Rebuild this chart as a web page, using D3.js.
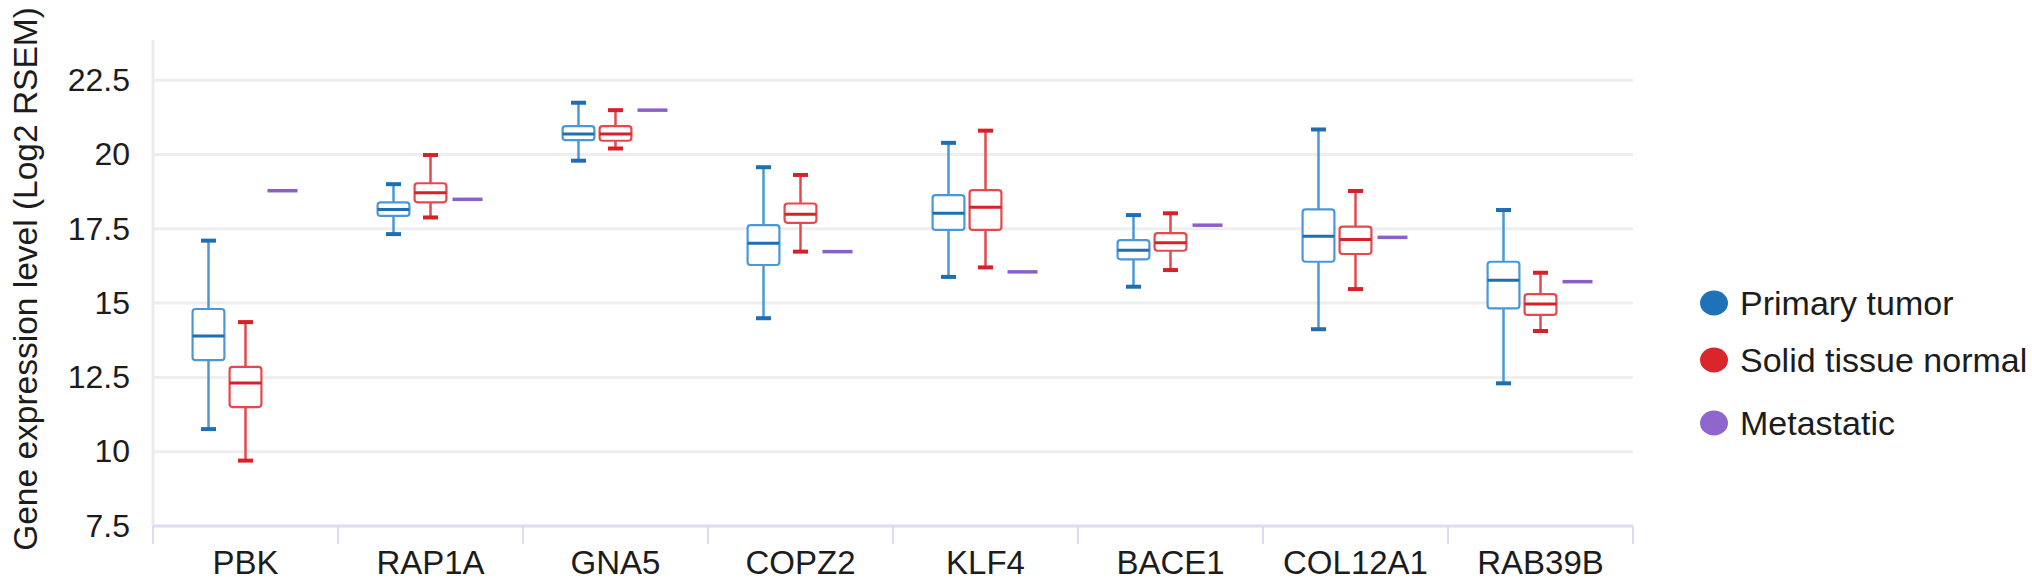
<!DOCTYPE html>
<html>
<head>
<meta charset="utf-8">
<script src="https://cdnjs.cloudflare.com/ajax/libs/d3/7.8.5/d3.min.js"></script>
<style>
  body { margin: 0; background: #fff; }
  svg { display: block; font-family: "Liberation Sans", Arial, Helvetica, sans-serif; }
  .tick text { fill: #1c1c1c; }
</style>
</head>
<body>
<div id="chart"></div>
<script>
// genes on the x axis
var genes = ['PBK', 'RAP1A', 'GNA5', 'COPZ2', 'KLF4', 'BACE1', 'COL12A1', 'RAB39B'];
var groups = ['Primary tumor', 'Solid tissue normal', 'Metastatic'];
var yTicks = [7.5, 10, 12.5, 15, 17.5, 20, 22.5];

// box stats per gene: [min, q1, median, q3, max]
var primaryTumor = [
  [10.76, 13.08, 13.89, 14.8, 17.1],
  [17.32, 17.93, 18.15, 18.39, 19.0],
  [19.79, 20.48, 20.69, 20.95, 21.74],
  [14.49, 16.28, 17.01, 17.62, 19.57],
  [15.88, 17.46, 18.02, 18.63, 20.39],
  [15.55, 16.47, 16.78, 17.12, 17.96],
  [14.12, 16.39, 17.25, 18.15, 20.84],
  [12.3, 14.82, 15.77, 16.39, 18.13]
];
var solidNormal = [
  [9.7, 11.5, 12.31, 12.85, 14.36],
  [17.88, 18.39, 18.71, 19.03, 19.98],
  [20.2, 20.46, 20.69, 20.95, 21.49],
  [16.73, 17.7, 17.99, 18.35, 19.31],
  [16.2, 17.46, 18.22, 18.8, 20.8],
  [16.11, 16.76, 17.03, 17.35, 18.02],
  [15.47, 16.65, 17.14, 17.57, 18.77],
  [14.06, 14.6, 14.97, 15.3, 16.02]
];
// metastatic has a single value per gene
var metastatic = [18.78, 18.49, 21.49, 16.73, 16.05, 17.62, 17.21, 15.72];

var colors = {
  'Primary tumor': { box: '#4b98d8', dark: '#1f6eb2', dot: '#1f72b8' },
  'Solid tissue normal': { box: '#e6484d', dark: '#d62128', dot: '#d9262c' },
  'Metastatic': { box: '#9a6fd0', dark: '#8c5fc8', dot: '#9166cc' }
};

var margin = { top: 40, left: 153, right: 399, bottom: 60 };
var W = 2032, H = 586;
var plotRight = W - margin.right;
var plotBottom = 526;
var fontFam = '"Liberation Sans", Arial, sans-serif';

var svg = d3.select('#chart').append('svg').attr('width', W).attr('height', H);

var x = d3.scaleBand().domain(genes).range([margin.left, plotRight]).paddingInner(0).paddingOuter(0);
var sub = d3.scaleBand().domain(groups).range([0, x.bandwidth()]).paddingInner(0).paddingOuter(1);
var y = d3.scaleLinear().domain([7.5, 23.85]).range([plotBottom, margin.top]);

// gridlines
svg.append('g').selectAll('line')
  .data(yTicks.slice(1))
  .join('line')
    .attr('x1', margin.left).attr('x2', plotRight)
    .attr('y1', function(d) { return y(d); }).attr('y2', function(d) { return y(d); })
    .attr('stroke', '#eeeeee').attr('stroke-width', 3);

// left axis line
svg.append('line')
  .attr('x1', margin.left).attr('x2', margin.left)
  .attr('y1', margin.top).attr('y2', plotBottom)
  .attr('stroke', '#ebebeb').attr('stroke-width', 3);

// y axis labels
var yAxis = d3.axisLeft(y).tickValues(yTicks).tickSize(0).tickPadding(23)
  .tickFormat(function(d) { return d; });
svg.append('g').attr('transform', 'translate(' + margin.left + ',0)').call(yAxis)
  .call(function(g) { g.select('.domain').remove(); })
  .selectAll('text').attr('font-size', 32).attr('font-family', fontFam);

// x axis line and band ticks
svg.append('line')
  .attr('x1', margin.left).attr('x2', plotRight)
  .attr('y1', plotBottom).attr('y2', plotBottom)
  .attr('stroke', '#dcdcf5').attr('stroke-width', 3);
svg.append('g').selectAll('line')
  .data(genes.concat(['end']))
  .join('line')
    .attr('x1', function(d) { return d === 'end' ? plotRight : x(d); })
    .attr('x2', function(d) { return d === 'end' ? plotRight : x(d); })
    .attr('y1', plotBottom).attr('y2', plotBottom + 18)
    .attr('stroke', '#dcdcf5').attr('stroke-width', 2);

var xAxis = d3.axisBottom(x).tickSize(0).tickPadding(25);
svg.append('g').attr('transform', 'translate(0,' + plotBottom + ')').call(xAxis)
  .call(function(g) { g.select('.domain').remove(); })
  .selectAll('text').attr('font-size', 33).attr('font-family', fontFam);

// y axis title
svg.append('text')
  .attr('transform', 'translate(37,' + 279 + ') rotate(-90)')
  .attr('text-anchor', 'middle')
  .attr('font-size', 33.5)
  .attr('fill', '#1c1c1c')
  .text('Gene expression level (Log2 RSEM)');

// boxes
var boxW = sub.bandwidth() * 0.86;
var capW = 15;

function drawBoxes(stats, group) {
  var c = colors[group];
  var g = svg.append('g').selectAll('g')
    .data(stats.map(function(s, i) { return { gene: genes[i], s: s }; }))
    .join('g')
      .attr('transform', function(d) { return 'translate(' + (x(d.gene) + sub(group) + sub.bandwidth() / 2) + ',0)'; });

  // whiskers
  g.append('line').attr('x1', 0).attr('x2', 0)
    .attr('y1', function(d) { return y(d.s[4]); }).attr('y2', function(d) { return y(d.s[3]); })
    .attr('stroke', c.box).attr('stroke-width', 2.5);
  g.append('line').attr('x1', 0).attr('x2', 0)
    .attr('y1', function(d) { return y(d.s[1]); }).attr('y2', function(d) { return y(d.s[0]); })
    .attr('stroke', c.box).attr('stroke-width', 2.5);
  // caps
  [0, 4].forEach(function(k) {
    g.append('line').attr('x1', -capW / 2).attr('x2', capW / 2)
      .attr('y1', function(d) { return y(d.s[k]); }).attr('y2', function(d) { return y(d.s[k]); })
      .attr('stroke', c.dark).attr('stroke-width', 4);
  });
  // box
  g.append('rect')
    .attr('x', -boxW / 2).attr('width', boxW)
    .attr('y', function(d) { return y(d.s[3]); })
    .attr('height', function(d) { return y(d.s[1]) - y(d.s[3]); })
    .attr('rx', 3)
    .attr('fill', '#fff').attr('stroke', c.box).attr('stroke-width', 2.2);
  // median
  g.append('line').attr('x1', -boxW / 2).attr('x2', boxW / 2)
    .attr('y1', function(d) { return y(d.s[2]); }).attr('y2', function(d) { return y(d.s[2]); })
    .attr('stroke', c.dark).attr('stroke-width', 3);
}

drawBoxes(primaryTumor, 'Primary tumor');
drawBoxes(solidNormal, 'Solid tissue normal');

// metastatic: single line
svg.append('g').selectAll('line')
  .data(metastatic.map(function(v, i) { return { gene: genes[i], v: v }; }))
  .join('line')
    .attr('x1', function(d) { return x(d.gene) + sub('Metastatic') + sub.bandwidth() / 2 - 15; })
    .attr('x2', function(d) { return x(d.gene) + sub('Metastatic') + sub.bandwidth() / 2 + 15; })
    .attr('y1', function(d) { return y(d.v); }).attr('y2', function(d) { return y(d.v); })
    .attr('stroke', colors['Metastatic'].dark).attr('stroke-width', 3.5);

// legend
var legendY = [303, 360, 423];
var legend = svg.append('g').selectAll('g')
  .data(groups)
  .join('g')
    .attr('transform', function(d, i) { return 'translate(1714,' + legendY[i] + ')'; });
legend.append('ellipse').attr('rx', 14).attr('ry', 12.5)
  .attr('fill', function(d) { return colors[d].dot; });
legend.append('text')
  .attr('x', 26).attr('dy', '0.35em')
  .attr('font-size', 34).attr('fill', '#1c1c1c')
  .text(function(d) { return d; });
</script>
</body>
</html>
